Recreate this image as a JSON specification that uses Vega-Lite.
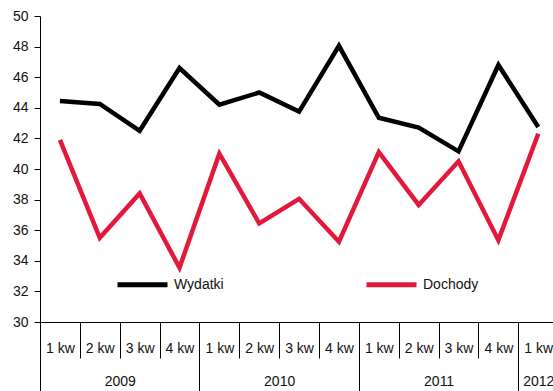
{
  "$schema": "https://vega.github.io/schema/vega-lite/v6.json",
  "autosize": {"type": "none"},
  "width": 513,
  "height": 306,
  "padding": {"left": 40, "top": 16, "right": 0, "bottom": 69},
  "background": "white",
  "config": {
    "view": {"stroke": null},
    "font": "Liberation Sans",
    "axis": {"labelFont": "Liberation Sans", "labelFontSize": 14, "labelColor": "#111111", "domainColor": "#000000", "tickColor": "#000000", "grid": false},
    "legend": {"labelFont": "Liberation Sans", "labelFontSize": 14, "labelColor": "#111111"}
  },
  "data": {
    "values": [
      {"q": 0, "series": "Wydatki", "value": 44.45},
      {"q": 1, "series": "Wydatki", "value": 44.25},
      {"q": 2, "series": "Wydatki", "value": 42.5},
      {"q": 3, "series": "Wydatki", "value": 46.6},
      {"q": 4, "series": "Wydatki", "value": 44.2},
      {"q": 5, "series": "Wydatki", "value": 45.0},
      {"q": 6, "series": "Wydatki", "value": 43.75},
      {"q": 7, "series": "Wydatki", "value": 48.05},
      {"q": 8, "series": "Wydatki", "value": 43.35},
      {"q": 9, "series": "Wydatki", "value": 42.7},
      {"q": 10, "series": "Wydatki", "value": 41.15},
      {"q": 11, "series": "Wydatki", "value": 46.8},
      {"q": 12, "series": "Wydatki", "value": 42.75},
      {"q": 0, "series": "Dochody", "value": 41.9},
      {"q": 1, "series": "Dochody", "value": 35.5},
      {"q": 2, "series": "Dochody", "value": 38.4},
      {"q": 3, "series": "Dochody", "value": 33.55},
      {"q": 4, "series": "Dochody", "value": 41.0},
      {"q": 5, "series": "Dochody", "value": 36.45},
      {"q": 6, "series": "Dochody", "value": 38.05},
      {"q": 7, "series": "Dochody", "value": 35.25},
      {"q": 8, "series": "Dochody", "value": 41.1},
      {"q": 9, "series": "Dochody", "value": 37.65},
      {"q": 10, "series": "Dochody", "value": 40.5},
      {"q": 11, "series": "Dochody", "value": 35.35},
      {"q": 12, "series": "Dochody", "value": 42.3}
    ]
  },
  "encoding": {
    "y": {
      "field": "value", "type": "quantitative",
      "scale": {"domain": [30, 50], "nice": false, "zero": false},
      "axis": {"title": null, "values": [30, 32, 34, 36, 38, 40, 42, 44, 46, 48, 50], "tickSize": 6, "labelPadding": 6, "domainWidth": 1, "tickWidth": 1}
    },
    "color": {
      "field": "series", "type": "nominal",
      "scale": {"domain": ["Wydatki", "Dochody"], "range": ["#000000", "#e3193c"]},
      "legend": {
        "title": null, "orient": "none", "direction": "horizontal",
        "legendX": 75, "legendY": 241,
        "symbolType": "stroke", "symbolSize": 2500, "symbolStrokeWidth": 5,
        "labelOffset": 4, "columnPadding": 132
      }
    }
  },
  "resolve": {"axis": {"x": "independent"}},
  "layer": [
    {
      "transform": [{"filter": "datum.series == 'Dochody'"}],
      "mark": {"type": "line", "strokeWidth": 4.5, "strokeJoin": "miter"},
      "encoding": {
        "x": {
          "field": "q", "type": "quantitative",
          "scale": {"domain": [-0.5, 12.37], "nice": false, "zero": false},
          "axis": {
            "title": null, "orient": "bottom",
            "values": [-0.5, 1.5, 3.5, 5.5, 7.5, 9.5, 11.5, 12],
            "labelExpr": "datum.value == 1.5 ? '2009' : datum.value == 5.5 ? '2010' : datum.value == 9.5 ? '2011' : datum.value == 12 ? '2012' : ''",
            "domain": false, "tickSize": 70, "tickWidth": 1,
            "tickOpacity": {"condition": {"test": "(datum.value + 0.5) % 4 == 0", "value": 1}, "value": 0},
            "labelPadding": -18, "labelFlush": false, "labelOverlap": false, "labelBound": false, "labelAlign": "center"
          }
        }
      }
    },
    {
      "transform": [{"filter": "datum.series == 'Wydatki'"}],
      "mark": {"type": "line", "strokeWidth": 4.5, "strokeJoin": "miter"},
      "encoding": {
        "x": {
          "field": "q", "type": "quantitative",
          "scale": {"domain": [-0.5, 12.37], "nice": false, "zero": false},
          "axis": {
            "title": null, "orient": "bottom",
            "values": [-0.5, 0.5, 1.5, 2.5, 3.5, 4.5, 5.5, 6.5, 7.5, 8.5, 9.5, 10.5, 11.5],
            "labelExpr": "['1 kw', '2 kw', '3 kw', '4 kw'][(datum.value + 0.5) % 4]",
            "domain": true, "domainWidth": 1, "tickSize": 36, "tickWidth": 1,
            "labelOffset": 19.9, "labelPadding": -17, "labelFlush": false, "labelOverlap": false, "labelBound": false, "labelAlign": "center"
          }
        }
      }
    }
  ]
}
